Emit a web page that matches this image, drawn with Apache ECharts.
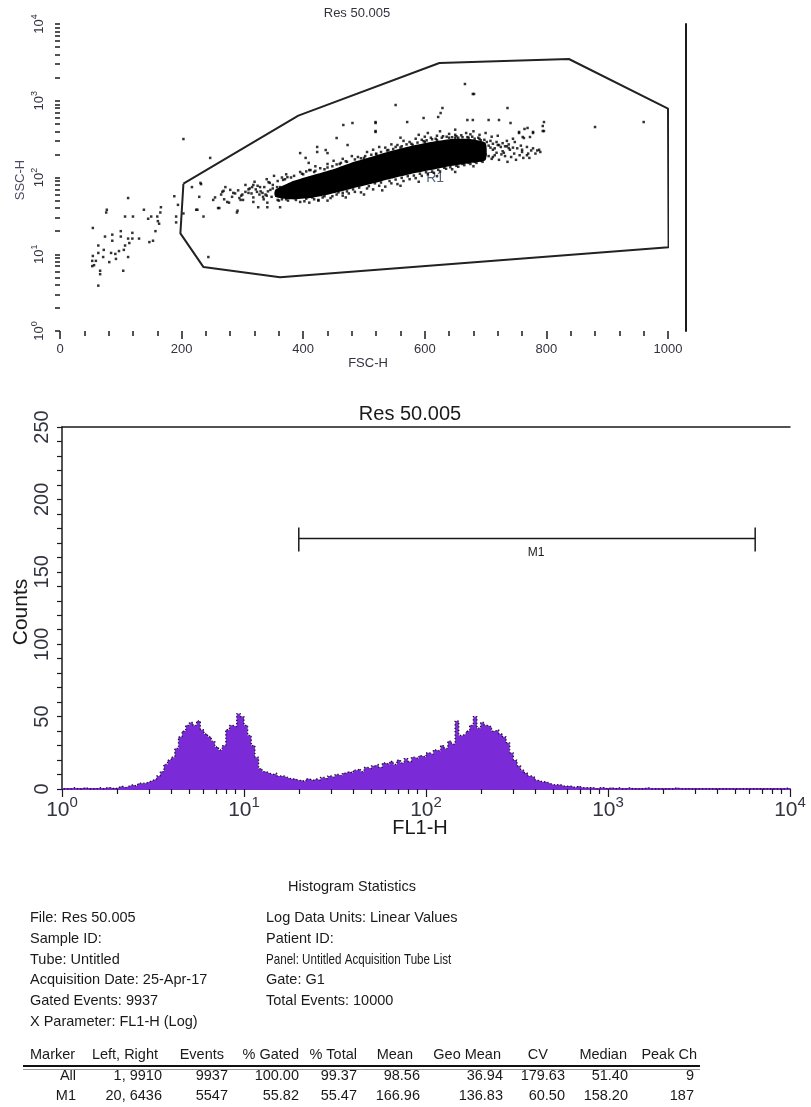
<!DOCTYPE html>
<html><head><meta charset="utf-8">
<script src="https://cdn.jsdelivr.net/npm/echarts@6/dist/echarts.min.js"></script>
<style>html,body{margin:0;padding:0;background:#fff}#main{width:811px;height:1107px}</style>
</head><body><div id="main"></div>
<script>
// ---------------- data: FSC/SSC dot plot ----------------
const scatterTitle = 'Res 50.005';
const fscName = 'FSC-H';
const sscName = 'SSC-H';
const fscRange = [0, 1000];
const sscRange = [1, 10000];
const gateName = 'R1';
const gateR1 = [[203,83],[392,640],[624,3100],[837,3500],[1000,790],[1001,12.3],[362,5.0],[236,6.8],[198,18.7]];
const gateLabelPos = [617, 98];
// outline of the saturated (solid black) core of the event cloud
const coreOutline = [[354,69],[379,87],[412,105],[445,125],[478,155],[511,185],[544,221],[577,257],[610,290],[643,318],[675,318],[700,282],
  [700,169],[675,155],[643,141],[610,125],[577,111],[544,96],[511,82],[478,71],[445,61],[412,54],[379,52],[354,56]];
// individually visible events
const sparseEvents = [
  [112,54],[76,35],[77,38],[54,22],[138,38],[107,31],[120,31],[166,41],[165,35],[160,31],[150,31],[145,29],[161,27],[163,25],[188,57],[194,44],[203,34],[191,31],[191,26],
  [100,20],[86,18],[74,17],[86,15],[100,17],[112,16],[119,19],[119,16],[114,14],[130,16],[107,13],[157,20],[153,15],[147,14.4],[63,13],[72,11.4],[63,10.4],[71,9.2],
  [84,10.4],[91,10.1],[92,8.7],[97,11],[105,11.4],[81,7.9],[112,9.2],[53,8.2],[59,8.2],[56,7.2],[53,7.0],[66,6.1],[66,5.5],[104,6.1],[63,3.9],[54,9.5],
  [203,317],[247,180],[217,75],[232,82],[229,56],[224,38],[236,31],[244,9.2],[231,85],[226,38],
  [252,51],[262,40],[269,67],[272,75],[280,69],[283,56],[278,47],[292,37],[295,54],[301,51],[310,63],[316,75],[329,75],[333,63],[343,87],[341,41],[358,51],[362,59],
  [362,75],[367,93],[374,101],[267,65],[285,63],[297,51],[324,65],[334,56],[346,69],[341,47],[357,75],[260,40],[275,48],[291,35],[318,48],[326,41],[425,51],[465,63],[415,101],[362,41],
  [395,208],[404,180],[409,155],[412,125],[423,250],[423,215],[437,228],[440,208],[455,327],[466,483],[481,513],[473,265],[519,513],[519,392],[679,1225],[552,880],[629,804],
  [626,692],[622,614],[736,804],[519,528],[519,403],[571,528],[598,596],[670,561],[679,561],[705,561],[722,561],[741,513],[755,392],[764,429],[778,392],[794,469],[794,403],
  [763,327],[738,242],[773,337],[666,1652],[681,1225],[880,455],[960,528],[796,528],[796,403],[769,442],[778,380],[755,380],[761,337],
  [380,100],[395,118],[410,125],[420,140],[440,150],[450,165],[465,175],[480,190],[490,185],[505,215],[515,230],[525,250],[535,245],[545,270],[555,265],[565,300],[575,290],
  [585,320],[595,310],[600,340],[610,330],[620,350],[630,345],[640,370],[650,360],[660,355],[668,380],[678,340],[688,330],[698,310],[708,300],[718,290],[728,280],[738,270],
  [748,290],[758,260],[768,250],[778,240],[788,230],[560,330],[590,360],[625,400],[650,420],[680,400],[700,380],[720,350],[745,320],[605,380],[640,330],[675,365],[710,340],
  [735,300],[655,330],[690,360],
  [705,260],[712,230],[718,210],[725,250],[732,190],[740,230],[747,205],[752,240],[760,215],[768,195],[775,225],[782,205],[790,215],[710,175],[722,170],[736,160],[750,170],
  [762,180],[700,200],[715,195],[728,220],[742,185],[756,195],[772,180],[720,265],[735,255],[695,235],[708,245],
  [365,52],[375,50],[385,54],[395,48],[405,53],[415,55],[425,50],[435,57],[445,54],[455,60],[465,58],[475,62],[485,65],[495,64],[505,72],[515,70],[525,78],[535,76],
  [545,84],[555,82],[565,90],[575,95],[585,98],[595,105],[605,110],[615,115],[625,120],[635,130],[645,128],[655,138],[665,145],[675,150],[685,155],[695,160],
  [410,47],[440,50],[470,55],[500,60],[530,68],[560,78],[590,88],[620,104],[650,118],[680,140],
  [300,60],[310,70],[318,55],[325,78],[330,66],[338,60],[345,85],[350,72],[355,62],[340,95],[352,105],[320,88],[305,80],[315,62],[335,52],[348,56],[358,90],[365,100],[372,110],
  [370,95],[385,105],[398,112],[405,120],[418,118],[428,132],[435,128],[448,140],[455,148],[462,155],[472,160],[485,172],[495,178],[502,190],[512,198],[520,205],[528,215],
  [538,225],[548,235],[552,250],[562,255],[570,270],[578,275],[588,285],[598,298],[603,305],[612,315],[618,320],[628,330],[636,340],[645,335],[652,345],[662,335],[672,330],
  [682,320],[692,305],[702,290],[712,275],[722,265],[732,255],
  [360,50],[372,52],[388,51],[402,49],[418,52],[432,55],[448,57],[458,64],[472,66],[482,70],[492,74],[508,77],[518,84],[528,86],[542,90],[552,94],[562,99],[572,104],
  [582,106],[592,112],[602,117],[612,120],[622,126],[632,134],[642,136],[652,142],[662,150],[672,155],[682,160],[692,165],
  [255,55],[265,60],[270,52],[288,62],[293,68],[298,58],[305,65],[312,72],[322,70],[328,60],[336,75],[342,66],[350,80],[356,58],[340,58],[318,80],
  [400,110],[420,122],[440,135],[460,150],[470,163],[500,180],[520,200],[540,228],[560,245],[580,266],[600,290],[620,308],[650,330],[670,336],[690,318],
  [705,190],[715,240],[730,210],[745,245],[760,230],[770,205],[785,225],[698,215],[712,185],[726,200]
];

// ---------------- data: FL1-H histogram ----------------
const histTitle = 'Res 50.005';
const histXName = 'FL1-H';
const histYName = 'Counts';
const histXRange = [1, 10000];
const histYRange = [0, 250];
const binsPerDecade = 50;   // channel width in decades (bin i spans i/50 .. (i+1)/50 decades)
const histCounts = [
  0,0,0,1,0,0,1,0,0,0,1,0,1,1,0,
  1,2,1,2,3,2,4,4,5,6,7,9,12,17,20,
  22,28,36,40,44,46,44,47,41,38,36,33,29,27,30,
  41,44,43,52,50,44,37,30,22,14,12,11,10,11,9,
  9,8,7,7,6,6,5,7,6,7,6,8,7,9,8,
  10,9,11,12,11,13,14,12,15,14,16,17,15,18,17,
  19,17,20,18,21,19,22,21,23,22,25,24,27,26,30,
  28,33,31,47,37,38,40,44,50,42,46,44,43,40,41,
  38,36,32,25,20,16,13,11,9,8,6,5,5,4,3,
  3,3,2,2,2,1,2,1,1,1,1,0,1,1,0,
  1,0,1,0,0,1,0,0,0,0,1,0,0,0,0,
  0,0,0,1,0,0,0,0,0,0,0,0,0,0,0,
  0,0,0,0,0,0,0,0,0,0,0,0,0,0,0,0,0,0,0,1
];
const markerNames = ['M1'];
const markerLeft = [20];
const markerRight = [6436];
const markerLevel = [173];

// ---------------- data: statistics ----------------
const statsTitle = 'Histogram Statistics';
const statsLeft = ['File: Res 50.005','Sample ID:','Tube: Untitled','Acquisition Date: 25-Apr-17','Gated Events: 9937','X Parameter: FL1-H (Log)'];
const statsRight = ['Log Data Units: Linear Values','Patient ID:','Panel: Untitled Acquisition Tube List','Gate: G1','Total Events: 10000'];
const tableHeader = ['Marker','Left, Right','Events','% Gated','% Total','Mean','Geo Mean','CV','Median','Peak Ch'];
const tableRows = [
  ['All','1, 9910','9937','100.00','99.37','98.56','36.94','179.63','51.40','9'],
  ['M1','20, 6436','5547','55.82','55.47','166.96','136.83','60.50','158.20','187']
];

// ---------------- styling / layout ----------------
const FONT = '"Liberation Sans", Arial, Helvetica, sans-serif';
const INK = '#1a1a1a';
const LBL = '#333340';
const PURPLE = '#7a2ad6';
const STAT_FS = 14.5;
const headerRight = [72,158,224,299,357,413,501,548,627,697];
const valueRight = [76,162,228,299,357,420,503,565,628,694];

function logTicks(lo, hi, withDecades) {
  const out = [];
  for (let d = lo; d < hi; d *= 10) {
    for (let k = withDecades ? 1 : 2; k < 10; k++) out.push(d * k);
  }
  if (withDecades) out.push(hi);
  return out;
}
function powLabel(v) {
  return '{b|10}{s|' + Math.round(Math.log10(v)) + '}';
}

const chart = echarts.init(document.getElementById('main'), null, {renderer: 'canvas'});

const histData = histCounts.map((c, i) => [Math.pow(10, (i + 0.5) / binsPerDecade), c]);

const graphic = [];
function txt(x, y, text, size, opts) {
  opts = opts || {};
  graphic.push({
    type: 'text', x: x, y: y, rotation: opts.rotation || 0, scaleX: opts.scaleX || 1,
    style: {text: text, font: (opts.weight || 'normal') + ' ' + size + 'px ' + FONT, fill: opts.color || INK,
      align: opts.align || 'left', verticalAlign: 'middle'},
    silent: true
  });
}
txt(357, 13, scatterTitle, 13, {align: 'center', color: LBL});
txt(368, 363, fscName, 13, {align: 'center', color: LBL});
txt(20, 180, sscName, 13, {align: 'center', rotation: Math.PI / 2, color: '#4a4a66'});
txt(410, 414, histTitle, 20, {align: 'center'});
txt(21, 612, histYName, 21, {align: 'center', rotation: Math.PI / 2});
txt(420, 828, histXName, 20, {align: 'center'});

txt(352, 887, statsTitle, STAT_FS, {align: 'center'});
const lineY = [918, 939, 960, 980, 1001, 1022];
statsLeft.forEach((s, i) => txt(30, lineY[i], s, STAT_FS));
statsRight.forEach((s, i) => txt(266, lineY[i], s, STAT_FS, {scaleX: s.indexOf('Panel') === 0 ? 0.8 : 1}));
tableHeader.forEach((s, i) => txt(i === 0 ? 30 : headerRight[i], 1055, s, STAT_FS, {align: i === 0 ? 'left' : 'right'}));
tableRows.forEach((row, r) => row.forEach((s, i) => txt(valueRight[i], r === 0 ? 1076 : 1096, s, STAT_FS, {align: 'right'})));
graphic.push({type: 'line', shape: {x1: 23, y1: 1066, x2: 700, y2: 1066}, style: {stroke: '#111', lineWidth: 2}, silent: true});
graphic.push({type: 'line', shape: {x1: 23, y1: 1069.5, x2: 700, y2: 1069.5}, style: {stroke: '#999', lineWidth: 1}, silent: true});

const option = {
  backgroundColor: '#fff',
  animation: false,
  textStyle: {fontFamily: FONT},
  grid: [
    {left: 60, top: 24, width: 608, height: 307},
    {left: 62, top: 427, width: 728, height: 362}
  ],
  xAxis: [
    { // 0: FSC
      type: 'value', gridIndex: 0, min: fscRange[0], max: fscRange[1], interval: 200, position: 'bottom',
      axisLine: {show: false},
      axisTick: {show: true, length: 8, lineStyle: {color: INK, width: 1.5}},
      minorTick: {show: true, splitNumber: 5, length: 5, lineStyle: {color: INK, width: 1.5}},
      splitLine: {show: false},
      axisLabel: {fontSize: 13, color: LBL, margin: 12, fontFamily: FONT, formatter: v => String(v)}
    },
    { // 1: FL1-H main
      type: 'log', logBase: 10, gridIndex: 1, min: histXRange[0], max: histXRange[1], position: 'bottom',
      axisLine: {show: true, lineStyle: {color: PURPLE, width: 2}},
      axisTick: {show: true, length: 8, lineStyle: {color: INK, width: 1.2}},
      splitLine: {show: false},
      axisLabel: {margin: 6, formatter: powLabel, rich: {
        b: {fontSize: 21, color: LBL, fontFamily: FONT, lineHeight: 26, verticalAlign: 'bottom'},
        s: {fontSize: 15, color: LBL, fontFamily: FONT, lineHeight: 14, verticalAlign: 'top'}}}
    },
    { // 2: FL1-H minor ticks
      type: 'log', logBase: 10, gridIndex: 1, min: histXRange[0], max: histXRange[1], position: 'bottom',
      axisLine: {show: false},
      axisTick: {show: true, length: 5, customValues: logTicks(1, 10000, false), lineStyle: {color: INK, width: 1.2}},
      axisLabel: {show: false}, splitLine: {show: false}
    },
    { // 3: top frame line
      type: 'log', logBase: 10, gridIndex: 1, position: 'top', min: histXRange[0], max: histXRange[1],
      axisLine: {show: true, lineStyle: {color: INK, width: 1.5}},
      axisTick: {show: false}, axisLabel: {show: false}, splitLine: {show: false}
    }
  ],
  yAxis: [
    { // 0: SSC
      type: 'log', logBase: 10, gridIndex: 0, min: sscRange[0], max: sscRange[1], offset: 2, position: 'left',
      axisLine: {show: false},
      axisTick: {show: true, length: 5, customValues: logTicks(1, 10000, true), lineStyle: {color: INK, width: 1.5}},
      splitLine: {show: false},
      axisLabel: {rotate: 90, margin: 12, formatter: powLabel, rich: {
        b: {fontSize: 13, color: LBL, fontFamily: FONT, lineHeight: 16, verticalAlign: 'bottom'},
        s: {fontSize: 9, color: LBL, fontFamily: FONT, lineHeight: 9, verticalAlign: 'top'}}}
    },
    { // 1: right frame line of dot plot
      type: 'log', logBase: 10, gridIndex: 0, position: 'right', offset: 18, min: sscRange[0], max: sscRange[1],
      axisLine: {show: true, lineStyle: {color: INK, width: 2}},
      axisTick: {show: false}, axisLabel: {show: false}, splitLine: {show: false}
    },
    { // 2: Counts
      type: 'value', gridIndex: 1, min: histYRange[0], max: histYRange[1], interval: 50, position: 'left',
      axisLine: {show: true, lineStyle: {color: INK, width: 1.5}},
      axisTick: {show: true, length: 5, lineStyle: {color: INK, width: 1.2}},
      minorTick: {show: true, splitNumber: 5, length: 5, lineStyle: {color: INK, width: 1.2}},
      splitLine: {show: false},
      axisLabel: {rotate: 90, fontSize: 20, color: LBL, margin: 10, fontFamily: FONT}
    }
  ],
  graphic: graphic,
  series: [
    {
      type: 'custom', name: 'core', xAxisIndex: 0, yAxisIndex: 0, data: coreOutline, encode: {x: 0, y: 1},
      renderItem: function (params, api) {
        if (params.dataIndex !== 0) return;
        return {type: 'polygon', shape: {points: coreOutline.map(p => api.coord(p)), smooth: 0.2}, style: {fill: '#000'}};
      }, silent: true, z: 2
    },
    {
      type: 'scatter', name: 'events', xAxisIndex: 0, yAxisIndex: 0, data: sparseEvents,
      symbol: 'rect', symbolSize: 2.5, itemStyle: {color: '#000'}, silent: true, z: 3
    },
    {
      type: 'line', name: gateName, xAxisIndex: 0, yAxisIndex: 0, data: gateR1.concat([gateR1[0]]),
      symbol: 'none', lineStyle: {color: '#222', width: 2}, clip: false, silent: true, z: 4
    },
    {
      type: 'scatter', xAxisIndex: 0, yAxisIndex: 0, data: [gateLabelPos], symbolSize: 0, silent: true,
      label: {show: true, position: 'inside', formatter: gateName, fontSize: 14, color: '#2a3a5a', fontFamily: FONT}
    },
    {
      type: 'line', name: 'FL1-H', xAxisIndex: 1, yAxisIndex: 2, data: histData, step: 'middle',
      symbol: 'none', areaStyle: {color: PURPLE, opacity: 1},
      lineStyle: {color: '#111', width: 1.3, type: [1.2, 2.2]}, silent: true, z: 3
    },
    {
      type: 'custom', name: 'markers', xAxisIndex: 1, yAxisIndex: 2,
      data: markerNames.map((n, i) => [markerLeft[i], markerRight[i], markerLevel[i]]),
      encode: {x: [0, 1], y: 2},
      renderItem: function (params, api) {
        const a = api.coord([api.value(0), api.value(2)]);
        const b = api.coord([api.value(1), api.value(2)]);
        const st = {stroke: INK, lineWidth: 1.5};
        return {type: 'group', children: [
          {type: 'line', shape: {x1: a[0], y1: a[1], x2: b[0], y2: b[1]}, style: st},
          {type: 'line', shape: {x1: a[0], y1: a[1] - 11, x2: a[0], y2: a[1] + 13}, style: st},
          {type: 'line', shape: {x1: b[0], y1: b[1] - 11, x2: b[0], y2: b[1] + 13}, style: st},
          {type: 'text', x: (a[0] + b[0]) / 2 + 9, y: a[1] + 14,
            style: {text: markerNames[params.dataIndex], font: '12px ' + FONT, fill: INK, align: 'center', verticalAlign: 'middle'}}
        ]};
      }, silent: true, z: 5
    }
  ]
};
chart.setOption(option);
</script></body></html>
